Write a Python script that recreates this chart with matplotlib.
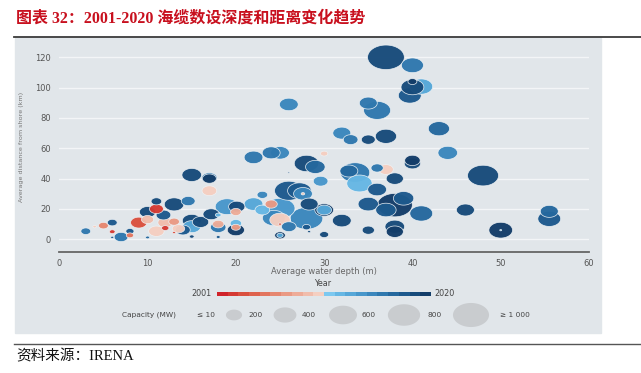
import numpy as np
import matplotlib
matplotlib.use("Agg")
import matplotlib.pyplot as plt
from matplotlib.path import Path
from matplotlib.markers import MarkerStyle
from matplotlib.colors import ListedColormap
from matplotlib.patches import Rectangle

# ---- data ----
depth = [3, 4, 5, 6, 6, 6, 7, 8, 8, 10, 9, 10, 10, 11, 11, 11.8, 11, 12, 12, 13,
         13, 13, 13.5, 14, 14.6, 15, 15, 15, 15, 16, 17, 17, 17, 17.2, 18, 18, 18, 18,
         19, 20.1, 20, 20, 20, 20, 22, 22, 23, 23, 24, 25, 24, 25, 24.3, 25, 25, 25,
         25, 26, 26, 26, 27.2, 27.6, 27.6, 28, 29, 28.3, 28, 28, 28.3, 29.6, 30, 30,
         30, 30, 32, 32, 33, 32.8, 33.5, 34, 35, 36, 35, 37, 37, 40, 40, 40, 39.7,
         41, 43, 44, 40, 40, 36, 37, 38, 36, 35, 38, 37, 39, 41, 38, 38, 35, 46, 48,
         50, 55.5, 55.5, 26, 50]
distance = [5.3, 8.3, 9, 11, 5, 1.3, 1.5, 5.3, 2.6, 1.2, 11, 13, 18, 25, 20, 16, 5.3,
            7.4, 11, 11.6, 4.4, 23, 7, 6.1, 25.2, 42.4, 12.3, 8.3, 1.8, 11.4, 40.5, 40,
            32, 16.5, 16, 10, 7.9, 1.5, 21.5, 21.5, 18, 6.1, 10.5, 7.9, 54, 23.2, 29.3,
            19.3, 57, 57, 23.2, 20.4, 14, 12.7, 10, 2.6, 2.6, 8.3, 88.9, 32, 32, 30, 30,
            50, 47.7, 23.2, 13.8, 8, 5, 38.3, 19.3, 19.3, 56.5, 3.1, 12.3, 70, 65.7, 45,
            44, 36.8, 89.8, 85, 65.7, 67.9, 120, 114.7, 104, 100.3, 94.8, 100.7, 72.9,
            57, 52, 50, 47, 46, 40, 32.8, 23.2, 22.5, 19.3, 27, 17, 8.3, 5, 6, 19.3,
            42, 6, 13.5, 18.4, 44, 6]
capacity = [74, 10, 74, 74, 25, 8, 148, 51, 41, 13, 205, 115, 205, 87, 148, 166, 185,
            41, 166, 87, 8, 295, 120, 166, 148, 295, 271, 248, 18, 205, 180, 148, 166,
            205, 25, 100, 185, 13, 431, 205, 87, 226, 100, 62, 271, 271, 87, 166, 248,
            271, 115, 690, 400, 320, 8, 87, 30, 166, 271, 628, 431, 271, 10, 462, 295,
            248, 820, 51, 8, 166, 271, 166, 41, 62, 271, 248, 166, 248, 664, 493, 248,
            559, 148, 346, 1040, 373, 62, 402, 402, 402, 346, 295, 185, 205, 115, 166,
            226, 271, 320, 948, 320, 320, 402, 295, 226, 115, 248, 740, 431, 402, 248,
            3, 3]
year = [2016, 2010, 2006, 2018, 2002, 2018, 2016, 2018, 2005, 2017, 2003, 2009, 2019,
        2019, 2002, 2018, 2010, 2002, 2009, 2007, 2003, 2019, 2010, 2018, 2016, 2019,
        2019, 2013, 2019, 2019, 2016, 2020, 2010, 2019, 2012, 2008, 2016, 2018, 2014,
        2019, 2008, 2020, 2012, 2007, 2016, 2013, 2015, 2012, 2016, 2015, 2007, 2014,
        2015, 2010, 2003, 2020, 2013, 2016, 2015, 2018, 2018, 2015, 2010, 2019, 2017,
        2019, 2015, 2018, 2019, 2014, 2020, 2013, 2010, 2019, 2019, 2015, 2016, 2017,
        2016, 2012, 2016, 2016, 2019, 2019, 2019, 2016, 2020, 2019, 2018, 2013, 2017,
        2015, 2020, 2019, 2016, 2010, 2019, 2018, 2018, 2020, 2018, 2018, 2017, 2019,
        2020, 2019, 2019, 2019, 2020, 2018, 2017, 2019, 2011]

year_colors = ["#d0232a", "#d53a33", "#da503f", "#de624d", "#e2755e", "#e68770",
               "#ea9a84", "#eeac98", "#f1bdac", "#f5cfc1",
               "#7cc8f0", "#66b7e4", "#56a7d8", "#4897cb", "#3b87bd", "#2f78ae",
               "#25689e", "#1d598d", "#174b7b", "#133d69"]
legend_mw = [200, 400, 600, 800, 1000]
legend_labels = ["200", "400", "600", "800", "≥ 1 000"]

W, H = 641, 373
px_per_sqrt_mw = 1.14   # bubble width (px) per sqrt(MW)

# elliptical marker: the source chart is squashed vertically
t = np.linspace(0, 2 * np.pi, 73)
ellipse = MarkerStyle(Path(np.column_stack([1.5 * np.cos(t), np.sin(t)]), closed=True))


def msize(mw):
    w_pt = px_per_sqrt_mw * np.sqrt(np.asarray(mw, dtype=float)) * 72 / 100
    return w_pt ** 2


fig = plt.figure(figsize=(W / 100, H / 100), dpi=100)

# background layer in pixel coords
bg = fig.add_axes([0, 0, 1, 1])
bg.set_xlim(0, W)
bg.set_ylim(H, 0)
bg.axis("off")
bg.add_patch(Rectangle((15, 37.5), 586, 295.5, color="#e1e6ea", zorder=0))
bg.plot([14, 641], [36.7, 36.7], color="#3a3a3a", lw=1.3)
bg.plot([14, 641], [344, 344], color="#555555", lw=1.0)

cjk = ["Liberation Serif", "Noto Sans CJK SC"]
bg.text(16, 19, "图表 32：2001-2020 海缆数设深度和距离变化趋势", family=cjk,
        fontsize=11.5, fontweight="bold", color="#c8101e", va="center", ha="left")
bg.text(16, 356, "资料来源：IRENA", family=cjk, fontsize=10.5, color="#111111",
        va="center", ha="left")

# main scatter
ax = fig.add_axes([59.3 / W, 1 - 251.7 / H, (589 - 59.3) / W, (251.7 - 45) / H])
ax.set_facecolor("none")
order = np.argsort(capacity)[::-1]
d = np.array(depth)[order]
r = np.array(distance)[order]
c = np.array(capacity)[order]
col = [year_colors[year[i] - 2001] for i in order]
ax.scatter(d, r, s=msize(c), c=col, marker=ellipse, edgecolors="#eef2f5",
           linewidths=0.5, alpha=0.97, clip_on=False, zorder=3)

ax.set_xlim(0, 60)
ax.set_ylim(-8.2, 128.1)
ax.set_xticks(range(0, 61, 10))
ax.set_yticks(range(0, 121, 20))
ax.yaxis.grid(True, color="#f3f5f7", lw=1.0)
ax.set_axisbelow(True)
for s in ["left", "right", "top"]:
    ax.spines[s].set_visible(False)
ax.spines["bottom"].set_color("#666666")
ax.spines["bottom"].set_linewidth(1.3)
ax.tick_params(axis="both", length=0, labelsize=6, labelcolor="#555555")
ax.tick_params(axis="y", pad=6)
ax.tick_params(axis="x", pad=5)
ax.set_xticks([0, 60], minor=True)
ax.tick_params(axis="x", which="minor", direction="in", length=3, color="#666666", width=1)
ax.set_xlabel("Average water depth (m)", fontsize=6, color="#666666")
ax.xaxis.set_label_coords(0.4997, -0.075)
ax.set_ylabel("Average distance from shore (km)", fontsize=4.6, color="#777777")
ax.yaxis.set_label_coords(-0.066, 0.506)

# year legend
bg.text(323, 284, "Year", fontsize=5.8, color="#444444", ha="center", va="center")
cax = fig.add_axes([217 / W, 1 - 296.5 / H, 213 / W, 5 / H])
cax.imshow(np.arange(len(year_colors))[None, :], cmap=ListedColormap(year_colors),
           aspect="auto", interpolation="nearest")
cax.axis("off")
bg.text(211, 294, "2001", fontsize=5.8, color="#444444", ha="right", va="center")
bg.text(434, 294, "2020", fontsize=5.8, color="#444444", ha="left", va="center")

# capacity legend
bg.text(122, 315, "Capacity (MW)", fontsize=5.3, color="#444444", ha="left", va="center")
bg.text(197, 315, "≤ 10", fontsize=5.3, color="#444444", ha="left", va="center")
leg_x = [234, 285, 343, 404, 471]
lab_x = [248, 302, 362, 427, 500]
bg.scatter(leg_x, [315] * len(leg_x), s=msize(legend_mw), marker=ellipse,
           color="#c9cccf", linewidths=0)
for x, lab in zip(lab_x, legend_labels):
    bg.text(x, 315, lab, fontsize=5.3, color="#444444", ha="left", va="center")

fig.savefig("out.png", dpi=100)
